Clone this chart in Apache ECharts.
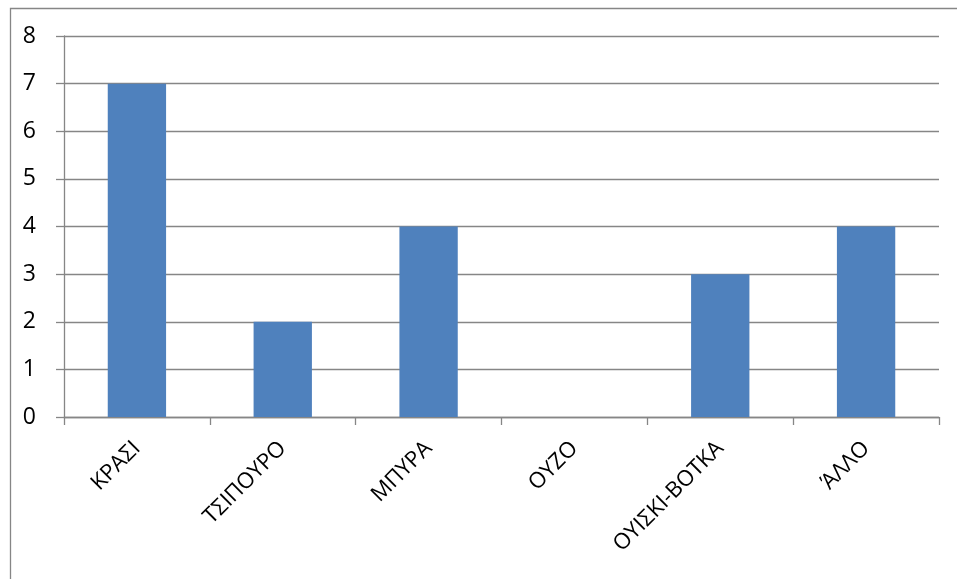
<!DOCTYPE html>
<html><head><meta charset="utf-8">
<script src="https://cdn.jsdelivr.net/npm/echarts@6/dist/echarts.min.js"></script>
<style>html,body{margin:0;padding:0;background:#fff}#c{width:957px;height:579px}</style>
</head><body><div id="c"></div>
<script>
const categories = ['ΚΡΑΣΙ', 'ΤΣΙΠΟΥΡΟ', 'ΜΠΥΡΑ', 'ΟΥΖΟ', 'ΟΥΙΣΚΙ-ΒΟΤΚΑ', 'ΆΛΛΟ'];
const values = [7, 2, 4, 0, 3, 4];
const yTicks = [0, 1, 2, 3, 4, 5, 6, 7, 8];

const chart = echarts.init(document.getElementById('c'), null, {renderer: 'canvas'});
chart.setOption({
  animation: false,
  backgroundColor: '#fff',
  graphic: [{
    type: 'rect', left: 8, top: 6, silent: true,
    shape: {x: 0, y: 0, width: 960, height: 585},
    style: {fill: 'none', stroke: '#868686', lineWidth: 1.3}
  }],
  grid: {left: 64, right: 18, top: 36, bottom: 162, containLabel: false},
  xAxis: {
    type: 'category', data: categories,
    axisLine: {lineStyle: {color: '#868686', width: 1.3}},
    axisTick: {show: true, length: 8, alignWithLabel: false, lineStyle: {color: '#868686', width: 1.3}},
    axisLabel: {rotate: 45, margin: 28, color: '#000', fontSize: 22, fontFamily: '"Open Sans", "Liberation Sans", sans-serif'}
  },
  yAxis: {
    type: 'value', min: yTicks[0], max: yTicks[yTicks.length - 1], interval: 1,
    axisLine: {show: true, lineStyle: {color: '#868686', width: 1.3}},
    axisTick: {show: true, length: 8, lineStyle: {color: '#868686', width: 1.3}},
    splitLine: {lineStyle: {color: '#868686', width: 1.3}},
    axisLabel: {margin: 28, color: '#000', fontSize: 23, fontFamily: '"Open Sans", "Liberation Sans", sans-serif'}
  },
  series: [{
    type: 'bar', data: values, barWidth: '40%',
    itemStyle: {color: '#4F81BD'}
  }]
});
</script></body></html>
